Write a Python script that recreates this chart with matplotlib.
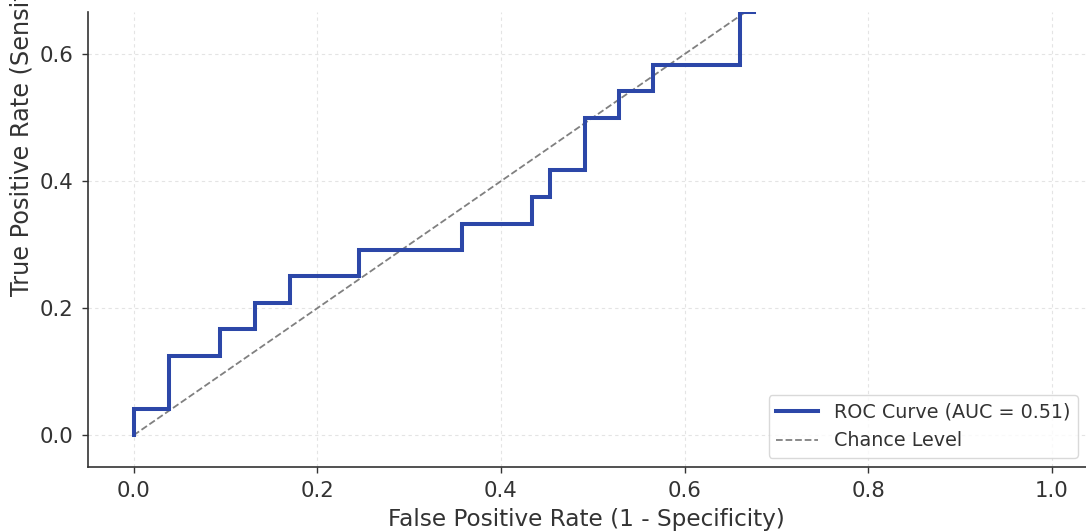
import matplotlib
matplotlib.use("Agg")
import matplotlib.pyplot as plt

# ROC curve step points
fpr = [0.0, 0.0, 0.038, 0.038, 0.094, 0.094, 0.132, 0.132, 0.170, 0.170,
       0.245, 0.245, 0.358, 0.358, 0.434, 0.434, 0.453, 0.453, 0.491, 0.491,
       0.528, 0.528, 0.566, 0.566, 0.660, 0.660, 0.676, 0.676]
tpr = [0.0, 0.042, 0.042, 0.125, 0.125, 0.167, 0.167, 0.208, 0.208, 0.250,
       0.250, 0.292, 0.292, 0.333, 0.333, 0.375, 0.375, 0.417, 0.417, 0.500,
       0.500, 0.542, 0.542, 0.583, 0.583, 0.667, 0.667, 0.708]
chance_x = [0.0, 1.0]
chance_y = [0.0, 1.0]
auc_value = 0.51
x_ticks = [0.0, 0.2, 0.4, 0.6, 0.8, 1.0]
y_ticks = [0.0, 0.2, 0.4, 0.6]

TXT = "#333333"
fig = plt.figure(figsize=(10.86, 5.32), dpi=100)
ax = fig.add_axes([87.7 / 1086, 65 / 532, 1 - 87.7 / 1086, (467 - 11.5) / 532])

ax.plot(fpr, tpr, color="#2c47a8", lw=2.9, label=f"ROC Curve (AUC = {auc_value:.2f})",
        solid_joinstyle="miter", zorder=3)
ax.plot(chance_x, chance_y, color="#808080", lw=1.3, ls="--", label="Chance Level", zorder=2)

ax.set_xlim(-0.05, 1.037)
ax.set_ylim(-0.05, 0.667)
ax.set_xticks(x_ticks)
ax.set_yticks(y_ticks)
ax.set_xticklabels([f"{t:.1f}" for t in x_ticks])
ax.set_yticklabels([f"{t:.1f}" for t in y_ticks])
ax.grid(True, color="#e4e4e4", ls=(0, (3, 3)), lw=0.8)
ax.set_axisbelow(True)
for s in ["top", "right"]:
    ax.spines[s].set_visible(False)
for s in ["left", "bottom"]:
    ax.spines[s].set_color("#333333")
    ax.spines[s].set_linewidth(1.2)
ax.tick_params(axis="both", labelsize=15.3, colors=TXT, length=4, width=1.0, pad=6)

ax.set_xlabel("False Positive Rate (1 - Specificity)", fontsize=16.7, color=TXT, labelpad=5)
ax.set_ylabel("True Positive Rate (Sensitivity)", fontsize=17.3, color=TXT)
ax.yaxis.label.set_horizontalalignment("left")
ax.yaxis.set_label_coords(34 / 1086, (532 - 296) / 532, transform=fig.transFigure)

leg = ax.legend(loc="lower right", bbox_to_anchor=(1078 / 1086, (532 - 458) / 532),
                bbox_transform=fig.transFigure, borderaxespad=0, fontsize=13.8,
                frameon=True, fancybox=True, handlelength=2.2)
leg.get_frame().set_edgecolor("#d0d0d0")
for t in leg.get_texts():
    t.set_color(TXT)

fig.savefig("out.png", dpi=100)
